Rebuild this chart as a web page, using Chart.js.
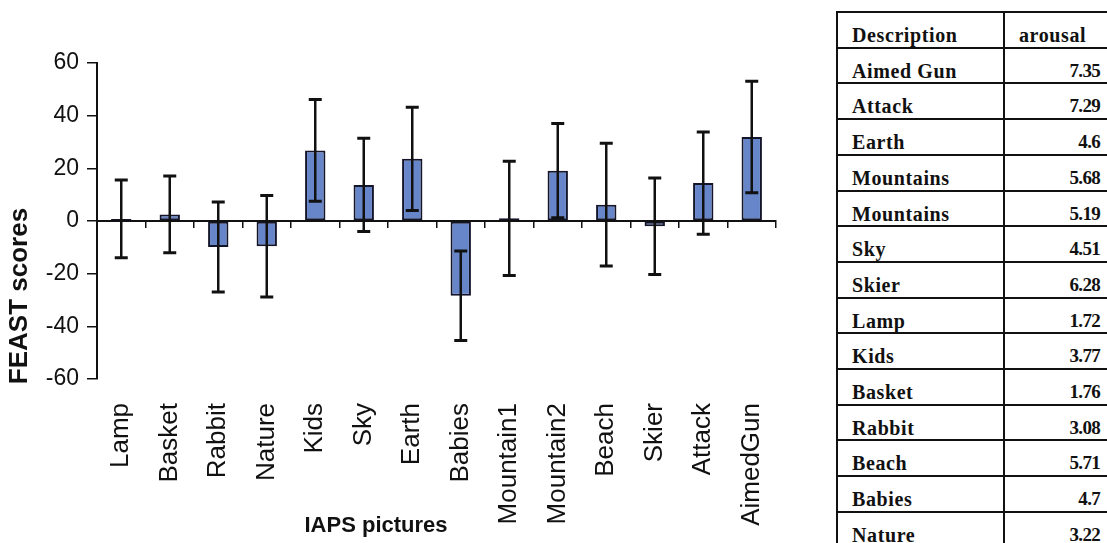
<!DOCTYPE html>
<html>
<head>
<meta charset="utf-8">
<script src="https://cdn.jsdelivr.net/npm/chart.js@4.4.1/dist/chart.umd.min.js"></script>
<style>
html,body{margin:0;padding:0;background:#fff;overflow:hidden;width:1107px;height:543px;}
#wrap{position:absolute;left:0;top:0;width:820px;height:543px;}
#tbl{position:absolute;left:836px;top:11px;width:290px;height:560px;font-family:"Liberation Serif","Times New Roman",serif;font-weight:bold;font-size:20px;color:#111;}
.row{position:absolute;left:0;width:290px;height:35.7px;border-top:2px solid #111;box-sizing:border-box;}
.c1{position:absolute;left:16px;top:12px;line-height:20px;letter-spacing:0.6px;white-space:nowrap;}
.c2{position:absolute;right:26px;top:12px;line-height:20px;letter-spacing:-0.7px;font-size:19px;white-space:nowrap;}
.c2h{position:absolute;left:183px;top:12px;line-height:20px;letter-spacing:0.6px;white-space:nowrap;}
.vline{position:absolute;top:0;width:2px;height:560px;background:#111;}
</style>
</head>
<body>
<div id="wrap"><canvas id="c"></canvas></div>
<div id="tbl"></div>
<script>
// ---- chart data ----
const categories = ['Lamp','Basket','Rabbit','Nature','Kids','Sky','Earth','Babies','Mountain1','Mountain2','Beach','Skier','Attack','AimedGun'];
const feastMeans  = [0.8, 2.5, -9.9, -9.6, 26.8, 13.7, 23.6, -28.4, 1.0, 19.1, 6.2, -2.0, 14.4, 31.9];
const feastErrors = [14.8, 14.6, 17.1, 19.3, 19.3, 17.7, 19.6, 17.0, 21.7, 17.9, 23.3, 18.3, 19.4, 21.2];
const yTicks = [-60, -40, -20, 0, 20, 40, 60];
const yTitle = 'FEAST scores';
const xTitle = 'IAPS pictures';

// ---- table data ----
const tableHeader = ['Description', 'arousal'];
const tableDescriptions = ['Aimed Gun','Attack','Earth','Mountains','Mountains','Sky','Skier','Lamp','Kids','Basket','Rabbit','Beach','Babies','Nature'];
const tableArousal = ['7.35','7.29','4.6','5.68','5.19','4.51','6.28','1.72','3.77','1.76','3.08','5.71','4.7','3.22'];

// build table
(function(){
  const t = document.getElementById('tbl');
  const rows = [[tableHeader[0], tableHeader[1], true]].concat(tableDescriptions.map((d,i)=>[d, tableArousal[i], false]));
  rows.forEach((r, i) => {
    const row = document.createElement('div');
    row.className = 'row';
    row.style.top = (i * 35.7) + 'px';
    const a = document.createElement('div'); a.className = 'c1'; a.textContent = r[0];
    const b = document.createElement('div'); b.className = r[2] ? 'c2h' : 'c2'; b.textContent = r[1];
    row.appendChild(a); row.appendChild(b);
    t.appendChild(row);
  });
  [0, 167].forEach(x => { const v = document.createElement('div'); v.className = 'vline'; v.style.left = x + 'px'; t.appendChild(v); });
})();

const errorBars = {
  id: 'errorBars',
  afterDatasetsDraw(chart) {
    const {ctx} = chart; const x = chart.scales.x, y = chart.scales.y;
    ctx.save();
    ctx.strokeStyle = '#111';
    feastMeans.forEach((m, i) => {
      const px = x.getPixelForValue(i);
      const top = y.getPixelForValue(m + feastErrors[i]);
      const bot = y.getPixelForValue(m - feastErrors[i]);
      ctx.lineWidth = 2.5;
      ctx.beginPath(); ctx.moveTo(px, top); ctx.lineTo(px, bot); ctx.stroke();
      ctx.lineWidth = 3;
      ctx.beginPath();
      ctx.moveTo(px - 6.5, top); ctx.lineTo(px + 6.5, top);
      ctx.moveTo(px - 6.5, bot); ctx.lineTo(px + 6.5, bot);
      ctx.stroke();
    });
    ctx.restore();
  }
};

const axisTitles = {
  id: 'axisTitles',
  afterDraw(chart) {
    const {ctx, chartArea} = chart;
    ctx.save();
    ctx.fillStyle = '#111';
    ctx.textAlign = 'center'; ctx.textBaseline = 'middle';
    ctx.font = 'bold 26px "Liberation Sans", Arial, sans-serif';
    ctx.translate(chartArea.left - 77, chartArea.top + 233);
    ctx.rotate(-Math.PI / 2);
    ctx.fillText(yTitle, 0, 0);
    ctx.restore();
    ctx.save();
    ctx.fillStyle = '#111';
    ctx.textAlign = 'center'; ctx.textBaseline = 'middle';
    ctx.font = 'bold 22px "Liberation Sans", Arial, sans-serif';
    ctx.fillText(xTitle, chartArea.left + 279, chartArea.bottom + 147);
    ctx.restore();
  }
};

new Chart(document.getElementById('c'), {
  type: 'bar',
  data: {
    labels: categories,
    datasets: [{
      data: feastMeans,
      backgroundColor: '#6686c9',
      borderColor: '#15152a',
      borderWidth: 2,
      borderSkipped: false,
      barPercentage: 0.42,
      categoryPercentage: 1.0
    }]
  },
  options: {
    responsive: true,
    maintainAspectRatio: false,
    animation: false,
    layout: { padding: { left: 0, top: 63, right: 44, bottom: 0 } },
    plugins: { legend: { display: false }, tooltip: { enabled: false } },
    scales: {
      x: {
        type: 'category',
        position: { y: 0 },
        offset: true,
        grid: { display: true, drawOnChartArea: false, offset: true, drawTicks: true, tickLength: 6, color: '#111', lineWidth: 1.5 },
        border: { display: true, color: '#111', width: 2 },
        ticks: { display: false }
      },
      x2: {
        type: 'category',
        labels: categories,
        position: 'bottom',
        offset: true,
        grid: { display: false, drawTicks: false },
        border: { display: false },
        ticks: {
          autoSkip: false, minRotation: 90, maxRotation: 90, padding: 24,
          color: '#111', font: { family: '"Liberation Sans", Arial, sans-serif', size: 26 }
        },
        afterFit(scale) { scale.height = 164; }
      },
      y: {
        type: 'linear',
        min: yTicks[0], max: yTicks[yTicks.length - 1],
        afterBuildTicks(scale) { scale.ticks = yTicks.map(v => ({ value: v })); },
        grid: { drawOnChartArea: false, drawTicks: true, tickLength: 10, color: '#111', lineWidth: 1.5 },
        border: { display: true, color: '#111', width: 2 },
        ticks: { padding: 8, color: '#111', font: { family: '"Liberation Sans", Arial, sans-serif', size: 23 } },
        afterFit(scale) { scale.width = 97; }
      }
    }
  },
  plugins: [errorBars, axisTitles]
});
</script>
</body>
</html>
